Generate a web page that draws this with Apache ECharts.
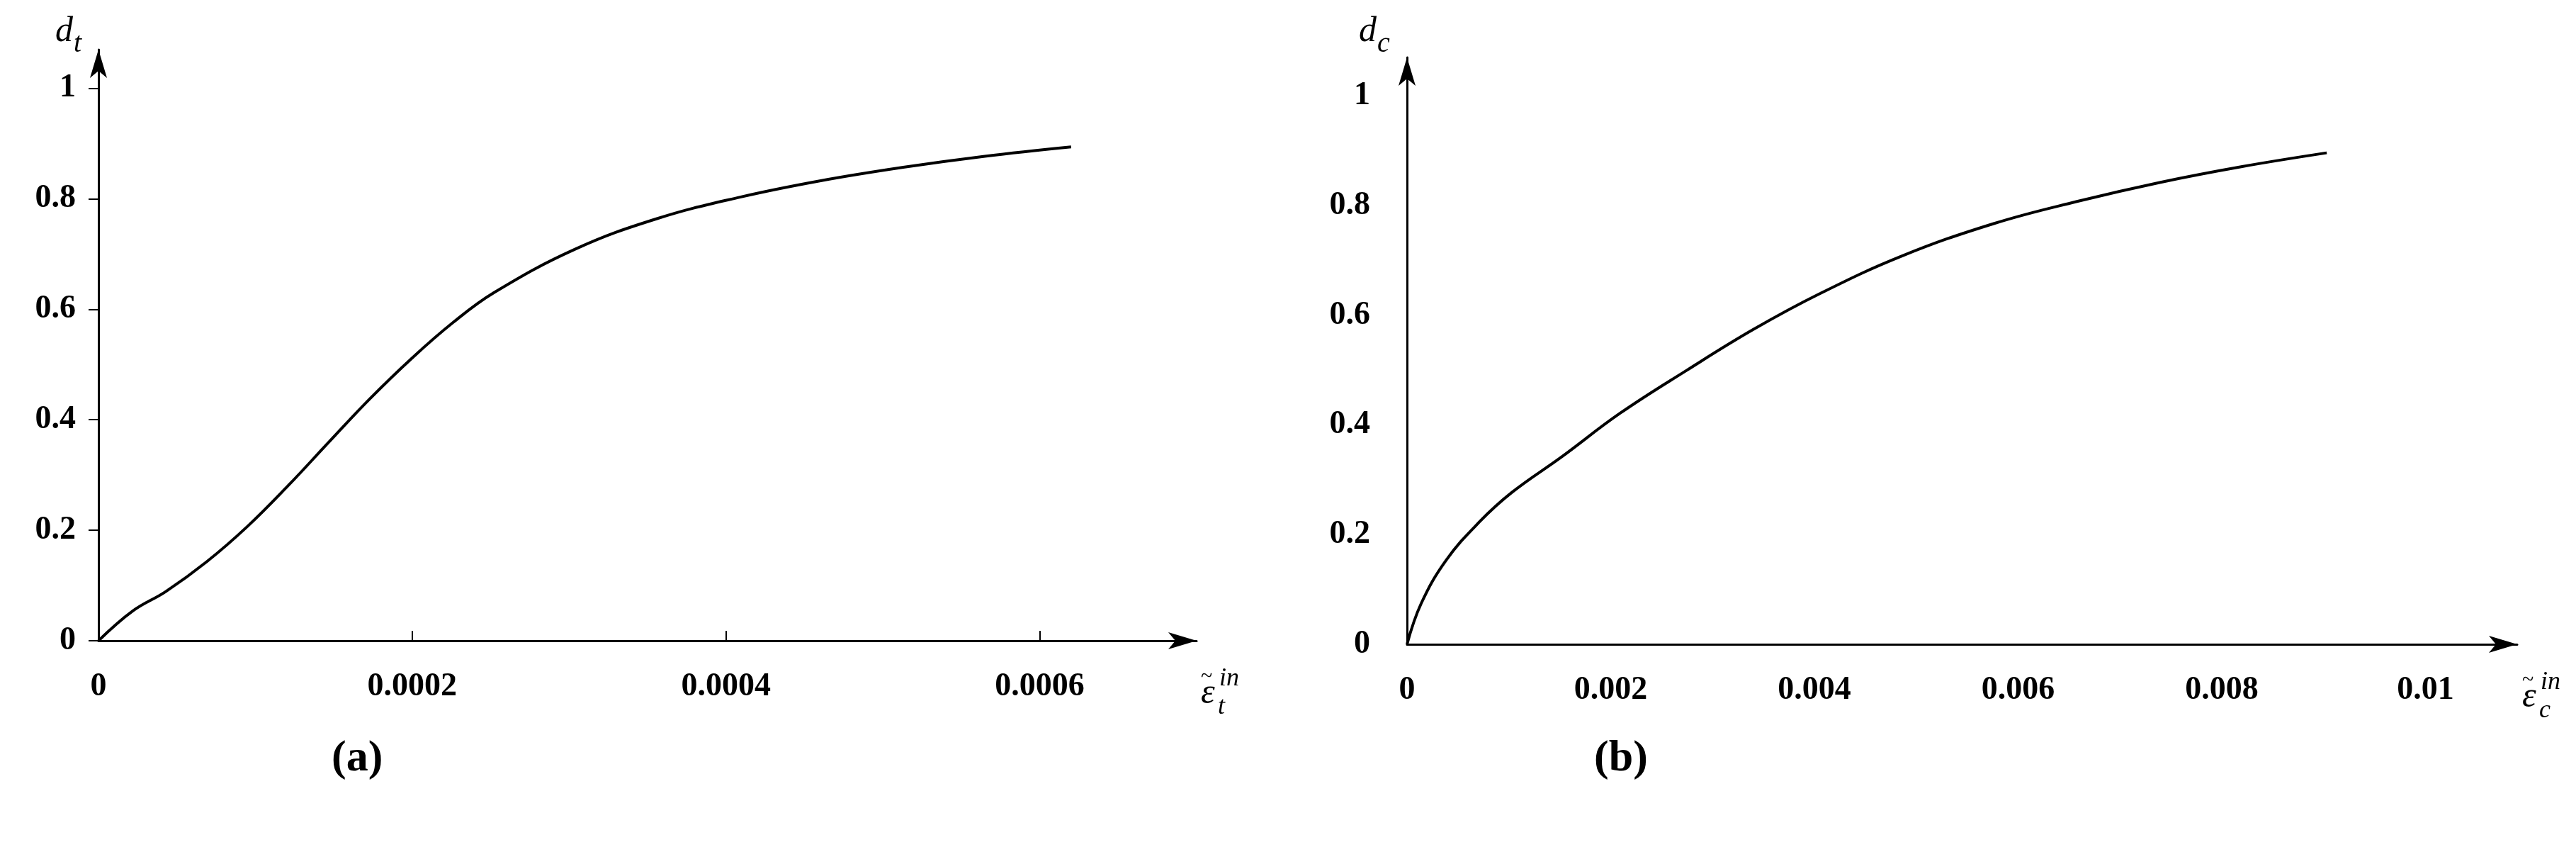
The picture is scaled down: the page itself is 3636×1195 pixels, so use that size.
<!DOCTYPE html>
<html><head><meta charset="utf-8">
<script src="https://cdn.jsdelivr.net/npm/echarts@6/dist/echarts.min.js"></script>
<style>html,body{margin:0;background:#fff}#c{width:3636px;height:1195px}</style>
</head><body><div id="c"></div>
<script>
const tensionStrain = [0,0.0000219,0.0000429,0.000069,0.000095,0.000121,0.000147,0.000173,0.0002,0.000226,0.000252,0.000304,0.000356,0.000409,0.000461,0.000513,0.000565,0.00062];
const tensionDamage = [0,0.054,0.089,0.143,0.207,0.281,0.360,0.438,0.512,0.576,0.630,0.709,0.764,0.803,0.833,0.857,0.877,0.894];
const compStrain = [0,0.000138,0.000383,0.00071,0.00103,0.00152,0.00209,0.00275,0.0034,0.00405,0.00486,0.00576,0.00657,0.00739,0.0082,0.00903];
const compDamage = [0,0.074,0.153,0.223,0.277,0.342,0.421,0.5,0.574,0.639,0.708,0.767,0.807,0.842,0.871,0.896];
const yTicks = [0,0.2,0.4,0.6,0.8,1];

const F = '"Liberation Serif","DejaVu Serif",serif';
const lab = {fontFamily:F,fontWeight:'bold',fontSize:46,color:'#000'};
function xAx(gi,max,interval,ticks){return {gridIndex:gi,type:'value',min:0,max:max,interval:interval,
  axisLine:{lineStyle:{color:'#000',width:3},symbol:['none','arrow'],symbolSize:[18,40]},
  axisTick:{show:ticks,inside:true,length:14,lineStyle:{color:'#000',width:2}},
  splitLine:{show:false},axisLabel:Object.assign({margin:42,showMaxLabel:false,formatter:v=>String(+v.toFixed(6))},lab)};}
function yAx(gi,ticks){return {gridIndex:gi,type:'value',min:0,max:1.07,interval:0.2,
  axisLine:{show:true,lineStyle:{color:'#000',width:3},symbol:['none','arrow'],symbolSize:[18,40]},
  axisTick:{show:ticks,length:14,lineStyle:{color:'#000',width:2}},
  splitLine:{show:false},axisLabel:Object.assign({margin:ticks?32:52,showMaxLabel:false,formatter:v=>yTicks.includes(+v.toFixed(2))?String(+v.toFixed(2)):''},lab)};}
function dName(x,y,sub){return {type:'group',left:x,top:y,children:[
  {type:'text',x:0,y:0,style:{text:'d',font:'italic 50px '+F,fill:'#000'}},
  {type:'text',x:26,y:22,style:{text:sub,font:'italic 40px '+F,fill:'#000'}}]};}
function eName(x,y,sub){return {type:'group',left:x,top:y,children:[
  {type:'text',x:0,y:0,style:{text:'~',font:'30px '+F,fill:'#000'}},
  {type:'text',x:0,y:14,style:{text:'ε',font:'italic 50px '+F,fill:'#000'}},
  {type:'text',x:26,y:0,style:{text:'in',font:'italic 36px '+F,fill:'#000'}},
  {type:'text',x:24,y:40,style:{text:sub,font:'italic 36px '+F,fill:'#000'}}]};}
const chart = echarts.init(document.getElementById('c'));
chart.setOption({
  animation:false,
  grid:[{left:139,top:70,width:1689-139,height:904-70},
        {left:1986,top:81,width:3553-1986,height:909-81}],
  xAxis:[xAx(0,0.0007,0.0002,true),xAx(1,0.0109,0.002,false)],
  yAxis:[yAx(0,true),yAx(1,false)],
  series:[
    {type:'line',xAxisIndex:0,yAxisIndex:0,data:tensionStrain.map((x,i)=>[x,tensionDamage[i]]),smooth:0.4,showSymbol:false,lineStyle:{color:'#000',width:4}},
    {type:'line',xAxisIndex:1,yAxisIndex:1,data:compStrain.map((x,i)=>[x,compDamage[i]]),smooth:0.4,showSymbol:false,lineStyle:{color:'#000',width:4}}
  ],
  graphic:[
    dName(78,20,'t'), dName(1918,20,'c'),
    eName(1695,940,'t'), eName(3560,945,'c'),
    {type:'text',left:468,top:1040,style:{text:'(a)',font:'bold 62px '+F,fill:'#000'}},
    {type:'text',left:2250,top:1040,style:{text:'(b)',font:'bold 62px '+F,fill:'#000'}}
  ]
});
</script></body></html>
